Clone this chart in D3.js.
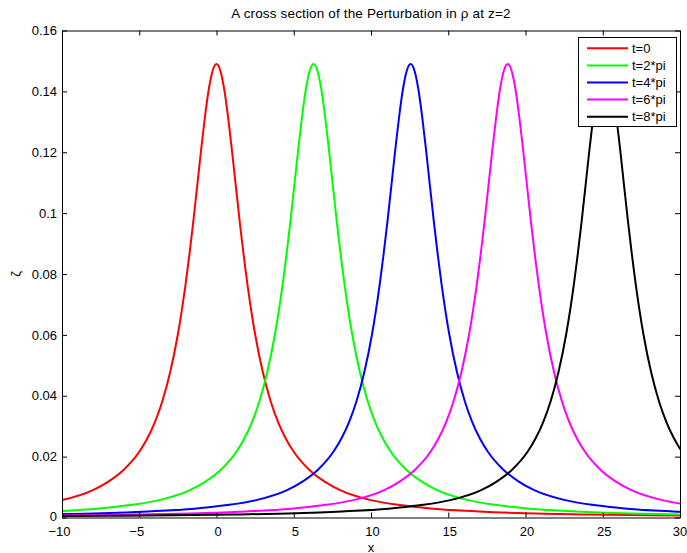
<!DOCTYPE html>
<html>
<head>
<meta charset="utf-8">
<script src="https://cdn.jsdelivr.net/npm/d3@7"></script>
<style>
  html, body { margin: 0; padding: 0; background: #fff; }
  svg { display: block; }
  text { font-family: "Liberation Sans", Arial, Helvetica, sans-serif; fill: #000; }
</style>
</head>
<body>
<svg id="chart" width="687" height="553"></svg>
<script>
// ---- data ----
const seriesLabels = ["t=0", "t=2*pi", "t=4*pi", "t=6*pi", "t=8*pi"];
const seriesColors = ["#ff0000", "#00ff00", "#0000ff", "#ff00ff", "#000000"];
const peakX = [0, 6.283, 12.566, 18.850, 25.133];
// distance from each peak (one side; the curves are symmetric)
const offsets = [0, 0.25, 0.5, 0.75, 1, 1.25, 1.5, 1.75, 2, 2.5, 3, 3.5, 4, 4.5, 5, 6, 7, 8, 10, 12, 14, 17, 20, 24, 28, 32, 36];
const zetaT0   = [0.149, 0.1468, 0.1407, 0.1315, 0.1206, 0.1089, 0.0973, 0.0865, 0.0767, 0.0602, 0.0477, 0.0383, 0.0312, 0.0258, 0.0216, 0.0157, 0.0118, 0.0090, 0.0057, 0.0040, 0.0029, 0.0020, 0.0014, 0.0010, 0.0007, 0.00055, 0.00045];
const zetaT2pi = [0.149, 0.1468, 0.1407, 0.1315, 0.1206, 0.1089, 0.0973, 0.0865, 0.0767, 0.0602, 0.0477, 0.0383, 0.0312, 0.0258, 0.0216, 0.0157, 0.0118, 0.0090, 0.0057, 0.0040, 0.0029, 0.0020, 0.0014, 0.0010, 0.0007, 0.00055, 0.00045];
const zetaT4pi = [0.149, 0.1468, 0.1407, 0.1315, 0.1206, 0.1089, 0.0973, 0.0865, 0.0767, 0.0602, 0.0477, 0.0383, 0.0312, 0.0258, 0.0216, 0.0157, 0.0118, 0.0090, 0.0057, 0.0040, 0.0029, 0.0020, 0.0014, 0.0010, 0.0007, 0.00055, 0.00045];
const zetaT6pi = [0.149, 0.1468, 0.1407, 0.1315, 0.1206, 0.1089, 0.0973, 0.0865, 0.0767, 0.0602, 0.0477, 0.0383, 0.0312, 0.0258, 0.0216, 0.0157, 0.0118, 0.0090, 0.0057, 0.0040, 0.0029, 0.0020, 0.0014, 0.0010, 0.0007, 0.00055, 0.00045];
const zetaT8pi = [0.149, 0.1468, 0.1407, 0.1315, 0.1206, 0.1089, 0.0973, 0.0865, 0.0767, 0.0602, 0.0477, 0.0383, 0.0312, 0.0258, 0.0216, 0.0157, 0.0118, 0.0090, 0.0057, 0.0040, 0.0029, 0.0020, 0.0014, 0.0010, 0.0007, 0.00055, 0.00045];
const seriesValues = [zetaT0, zetaT2pi, zetaT4pi, zetaT6pi, zetaT8pi];
const xTicks = [-10, -5, 0, 5, 10, 15, 20, 25, 30];
const yTicks = [0, 0.02, 0.04, 0.06, 0.08, 0.1, 0.12, 0.14, 0.16];
const titleText = "A cross section of the Perturbation in \u03c1 at z=2";
const xLabelText = "x";
const yLabelText = "\u03b6";

// ---- layout ----
const svg = d3.select("#chart");
const L = 62, R = 680, T = 30.5, B = 517.5;
const x = d3.scaleLinear().domain([-10, 30]).range([L, R]);
const y = d3.scaleLinear().domain([0, 0.16]).range([B, T]);
const FS = 13;

svg.append("defs").append("clipPath").attr("id", "clip")
  .append("rect").attr("x", L).attr("y", T).attr("width", R - L).attr("height", B - T);

// curves
const line = d3.line().x(d => x(d[0])).y(d => y(d[1])).curve(d3.curveMonotoneX);
const plot = svg.append("g").attr("clip-path", "url(#clip)");
seriesValues.forEach((vals, i) => {
  const pts = [];
  for (let k = offsets.length - 1; k > 0; k--) pts.push([peakX[i] - offsets[k], vals[k]]);
  for (let k = 0; k < offsets.length; k++) pts.push([peakX[i] + offsets[k], vals[k]]);
  plot.append("path").datum(pts)
    .attr("fill", "none").attr("stroke", seriesColors[i]).attr("stroke-width", 2)
    .attr("d", line);
});

// axes (MATLAB style: box with inward ticks on all sides)
const tl = 5;
const fmtY = d => d === 0 ? "0" : String(+d.toFixed(2));
const axB = svg.append("g").attr("transform", `translate(0,${B})`)
  .call(d3.axisBottom(x).tickValues(xTicks).tickSizeInner(-tl).tickSizeOuter(0).tickPadding(9)
    .tickFormat(d => d < 0 ? "\u2212" + Math.abs(d) : String(d)));
axB.selectAll(".tick text").attr("dx", d => d < 0 ? -3 : (d === 30 ? -0.5 : 1));
const axT = svg.append("g").attr("transform", `translate(0,${T})`)
  .call(d3.axisTop(x).tickValues(xTicks).tickSizeInner(-tl).tickSizeOuter(0).tickFormat(""));
const axL = svg.append("g").attr("transform", `translate(${L},0)`)
  .call(d3.axisLeft(y).tickValues(yTicks).tickSizeInner(-tl).tickSizeOuter(0).tickPadding(5).tickFormat(fmtY));
const axR = svg.append("g").attr("transform", `translate(${R},0)`)
  .call(d3.axisRight(y).tickValues(yTicks).tickSizeInner(-tl).tickSizeOuter(0).tickFormat(""));
[axB, axT, axL, axR].forEach(g => {
  g.select(".domain").attr("stroke", "#000").attr("stroke-width", 1);
  g.selectAll(".tick line").attr("stroke", "#000");
  g.selectAll(".tick text").attr("font-size", FS).attr("font-family", "Liberation Sans, Arial, sans-serif").attr("fill", "#000");
});
axL.selectAll(".tick text").filter(d => d === 0).attr("dy", "0.25em");

// title and labels
svg.append("text").attr("x", (L + R) / 2).attr("y", 18).attr("text-anchor", "middle")
  .attr("font-size", 13.5).attr("letter-spacing", 0.15).text(titleText);
svg.append("text").attr("x", (L + R) / 2).attr("y", 551.5).attr("text-anchor", "middle")
  .attr("font-size", FS).text(xLabelText);
svg.append("text").attr("transform", `translate(20,${(T + B) / 2}) rotate(-90)`).attr("text-anchor", "middle")
  .attr("font-size", FS).text(yLabelText);

// legend
const lg = svg.append("g");
lg.append("rect").attr("x", 578.5).attr("y", 37.5).attr("width", 98).attr("height", 89)
  .attr("fill", "#fff").attr("stroke", "#000").attr("stroke-width", 1);
seriesLabels.forEach((lab, i) => {
  const yy = 48.3 + i * 17.1;
  lg.append("line").attr("x1", 587).attr("x2", 628).attr("y1", yy).attr("y2", yy)
    .attr("stroke", seriesColors[i]).attr("stroke-width", 2);
  lg.append("text").attr("x", 632).attr("y", yy + 4.5).attr("font-size", FS).text(lab);
});
</script>
</body>
</html>
